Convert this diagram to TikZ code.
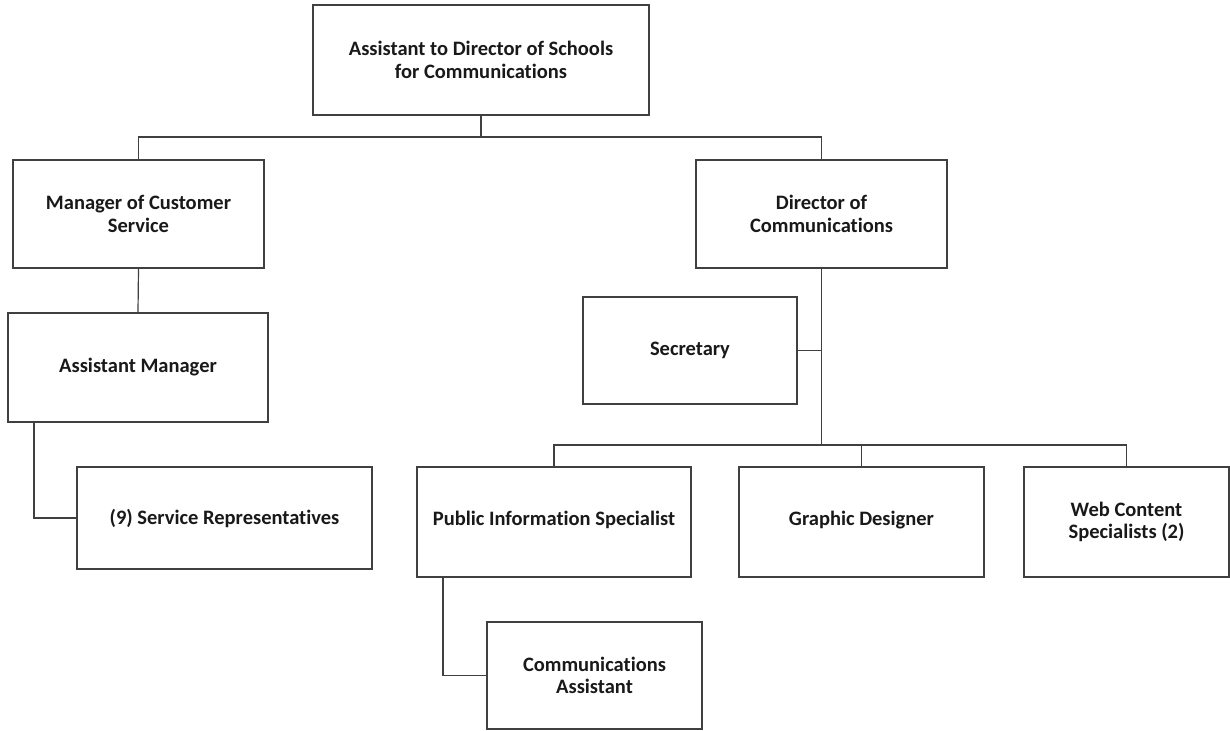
\documentclass[tikz,border=0pt]{standalone}
\usepackage{fontspec}
\setmainfont{Carlito}[Ligatures=NoCommon]
\begin{document}
\begin{tikzpicture}[x=1pt,y=-1pt,
  box/.style={draw=black!75,line width=1.2pt,fill=white,inner sep=0pt,
    align=center,font=\bfseries\fontsize{20.5}{22.5}\selectfont,text=black!90},
  link/.style={draw=black!75,line width=1.2pt}]
\useasboundingbox (0,0) rectangle (1230,730);
\fill[white] (0,0) rectangle (1230,730);

% boxes
\node[box,minimum width=336pt,minimum height=110pt] (top) at (481,60)
  {Assistant to Director of Schools\\for Communications};
\node[box,minimum width=251pt,minimum height=108pt] (mgr) at (138.5,214)
  {Manager of Customer\\Service};
\node[box,minimum width=260pt,minimum height=109pt] (am) at (138,367.5)
  {Assistant Manager};
\node[box,minimum width=295pt,minimum height=102pt] (sr) at (224.5,518)
  {(9) Service Representatives};
\node[box,minimum width=251pt,minimum height=108pt] (dir) at (821.5,214)
  {Director of\\Communications};
\node[box,minimum width=214pt,minimum height=107pt] (sec) at (690,350.5)
  {Secretary};
\node[box,minimum width=274pt,minimum height=110pt,text depth=8pt] (pis) at (554,522)
  {Public Information Specialist};
\node[box,minimum width=245pt,minimum height=110pt,text depth=8pt] (gd) at (861.5,522)
  {Graphic Designer};
\node[box,minimum width=205pt,minimum height=110pt] (wc) at (1126.5,522)
  {Web Content\\Specialists (2)};
\node[box,minimum width=215pt,minimum height=107pt] (ca) at (594.5,675.5)
  {Communications\\Assistant};

% junction points
\coordinate (topbus) at (481,137);
\coordinate (lowbus) at (821.5,445);
\coordinate (amtap) at (34,422);
\coordinate (pistap) at (443,577);

% connectors
\draw[link] (top.south) -- (topbus);
\draw[link] (mgr.north) |- (topbus) -| (dir.north);
\draw[link] (mgr.south) -- (am.north);
\draw[link] (amtap) |- (sr.west);
\draw[link] (dir.south) -- (lowbus);
\draw[link] (sec.east) -- (sec.east -| dir.south);
\draw[link] (pis.north) |- (lowbus) -| (wc.north);
\draw[link] (gd.north) -- (gd.north |- lowbus);
\draw[link] (pistap) |- (ca.west);
\end{tikzpicture}
\end{document}
